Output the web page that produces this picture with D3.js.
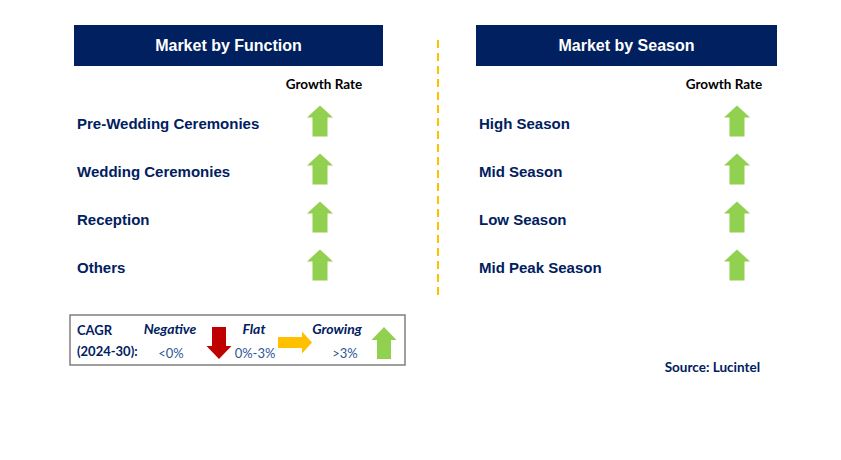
<!DOCTYPE html>
<html>
<head>
<meta charset="utf-8">
<script src="https://cdn.jsdelivr.net/npm/d3@7"></script>
<style>
  body { margin: 0; background: #fff; }
</style>
</head>
<body>
<script>
const functionTitle = "Market by Function";
const seasonTitle = "Market by Season";
const functionCategories = ["Pre-Wedding Ceremonies", "Wedding Ceremonies", "Reception", "Others"];
const seasonCategories = ["High Season", "Mid Season", "Low Season", "Mid Peak Season"];
const functionGrowth = ["up", "up", "up", "up"];
const seasonGrowth = ["up", "up", "up", "up"];
const legendLabels = ["Negative", "Flat", "Growing"];
const legendRanges = ["<0%", "0%-3%", ">3%"];
const legendDirs = ["down", "right", "up"];
const source = "Source: Lucintel";

const navy = "#002060";
const arrowColor = { up: "#92D050", down: "#C00000", right: "#FFC000" };
const calibri = "Lato, 'Open Sans', sans-serif";
const arial = "'Liberation Sans', Arial, sans-serif";

const svg = d3.select("body").append("svg")
  .attr("width", 841)
  .attr("height", 460);

// arrow polygon centred at (cx, cy), length along direction, w = head width, s = shaft width, h = head length
function arrowPoints(dir, cx, cy, len, w, s, h) {
  let pts = [[0, -len / 2], [w / 2, -len / 2 + h], [s / 2, -len / 2 + h], [s / 2, len / 2],
             [-s / 2, len / 2], [-s / 2, -len / 2 + h], [-w / 2, -len / 2 + h]];
  const rot = { up: 0, right: 90, down: 180 }[dir] * Math.PI / 180;
  return pts.map(([x, y]) => [cx + x * Math.cos(rot) - y * Math.sin(rot),
                              cy + x * Math.sin(rot) + y * Math.cos(rot)].join(",")).join(" ");
}

function drawPanel(g, title, cats, growth, x0, width, arrowX, growthX) {
  g.append("rect")
    .attr("x", x0).attr("y", 25)
    .attr("width", width).attr("height", 41)
    .attr("fill", navy);

  g.append("text")
    .attr("x", x0 + width / 2).attr("y", 51)
    .attr("font-family", arial).attr("font-weight", "bold").attr("font-size", 16)
    .attr("fill", "#fff").style("text-anchor", "middle")
    .text(title);

  g.append("text")
    .attr("x", growthX).attr("y", 89)
    .attr("font-family", calibri).attr("font-weight", "bold").attr("font-size", 13.5)
    .attr("fill", "#000").style("text-anchor", "middle")
    .text("Growth Rate");

  const y = d3.scalePoint().domain(cats).range([124, 268]);

  g.selectAll(".label").data(cats)
    .enter().append("text")
    .attr("class", "label")
    .attr("x", x0 + 3)
    .attr("y", d => y(d) + 5)
    .attr("font-family", arial).attr("font-weight", "bold").attr("font-size", 15)
    .attr("fill", navy)
    .text(d => d);

  g.selectAll(".arrow").data(cats)
    .enter().append("polygon")
    .attr("class", "arrow")
    .attr("points", (d, i) => arrowPoints(growth[i], arrowX, y(d) - 3, 31, 26, 15, 12))
    .attr("fill", (d, i) => arrowColor[growth[i]]);
}

drawPanel(svg.append("g"), functionTitle, functionCategories, functionGrowth, 74, 309, 320, 324);
drawPanel(svg.append("g"), seasonTitle, seasonCategories, seasonGrowth, 476, 301, 737, 724);

// divider
svg.append("line")
  .attr("x1", 438).attr("x2", 438)
  .attr("y1", 40).attr("y2", 299)
  .attr("stroke", "#FFC000").attr("stroke-width", 2)
  .attr("stroke-dasharray", "8,5");

// legend
const lg = svg.append("g");
lg.append("rect")
  .attr("x", 70).attr("y", 315)
  .attr("width", 335).attr("height", 50)
  .attr("fill", "#fff").attr("stroke", "#7f7f7f").attr("stroke-width", 1.5);

lg.append("text")
  .attr("x", 77).attr("y", 335)
  .attr("font-family", calibri).attr("font-weight", "bold").attr("font-size", 13)
  .attr("fill", navy).text("CAGR");
lg.append("text")
  .attr("x", 77).attr("y", 356)
  .attr("font-family", calibri).attr("font-weight", "bold").attr("font-size", 13)
  .attr("fill", navy).text("(2024-30):");

const labelX = d3.scaleOrdinal().domain(legendLabels).range([170, 254, 337]);
const rangeX = d3.scaleOrdinal().domain(legendLabels).range([171, 255, 345]);
const arrowLX = d3.scaleOrdinal().domain(legendLabels).range([219, 295, 384]);

lg.selectAll(".lab").data(legendLabels)
  .enter().append("text")
  .attr("class", "lab")
  .attr("x", d => labelX(d)).attr("y", 334)
  .attr("font-family", calibri).attr("font-weight", "bold").attr("font-style", "italic")
  .attr("font-size", 14).attr("fill", navy).style("text-anchor", "middle")
  .text(d => d);

lg.selectAll(".rng").data(legendLabels)
  .enter().append("text")
  .attr("class", "rng")
  .attr("x", d => rangeX(d)).attr("y", 358)
  .attr("font-family", calibri).attr("font-size", 13)
  .attr("fill", "#2F5597").style("text-anchor", "middle")
  .text((d, i) => legendRanges[i]);

lg.selectAll(".larrow").data(legendLabels)
  .enter().append("polygon")
  .attr("class", "larrow")
  .attr("points", (d, i) => legendDirs[i] === "right"
    ? arrowPoints("right", arrowLX(d), 342.5, 34, 22, 11, 10)
    : arrowPoints(legendDirs[i], arrowLX(d), 343, 32, 25, 14, 13))
  .attr("fill", (d, i) => arrowColor[legendDirs[i]]);

svg.append("text")
  .attr("x", 760).attr("y", 372)
  .attr("font-family", calibri).attr("font-weight", "bold").attr("font-size", 13.5)
  .attr("fill", navy).style("text-anchor", "end")
  .text(source);
</script>
</body>
</html>
